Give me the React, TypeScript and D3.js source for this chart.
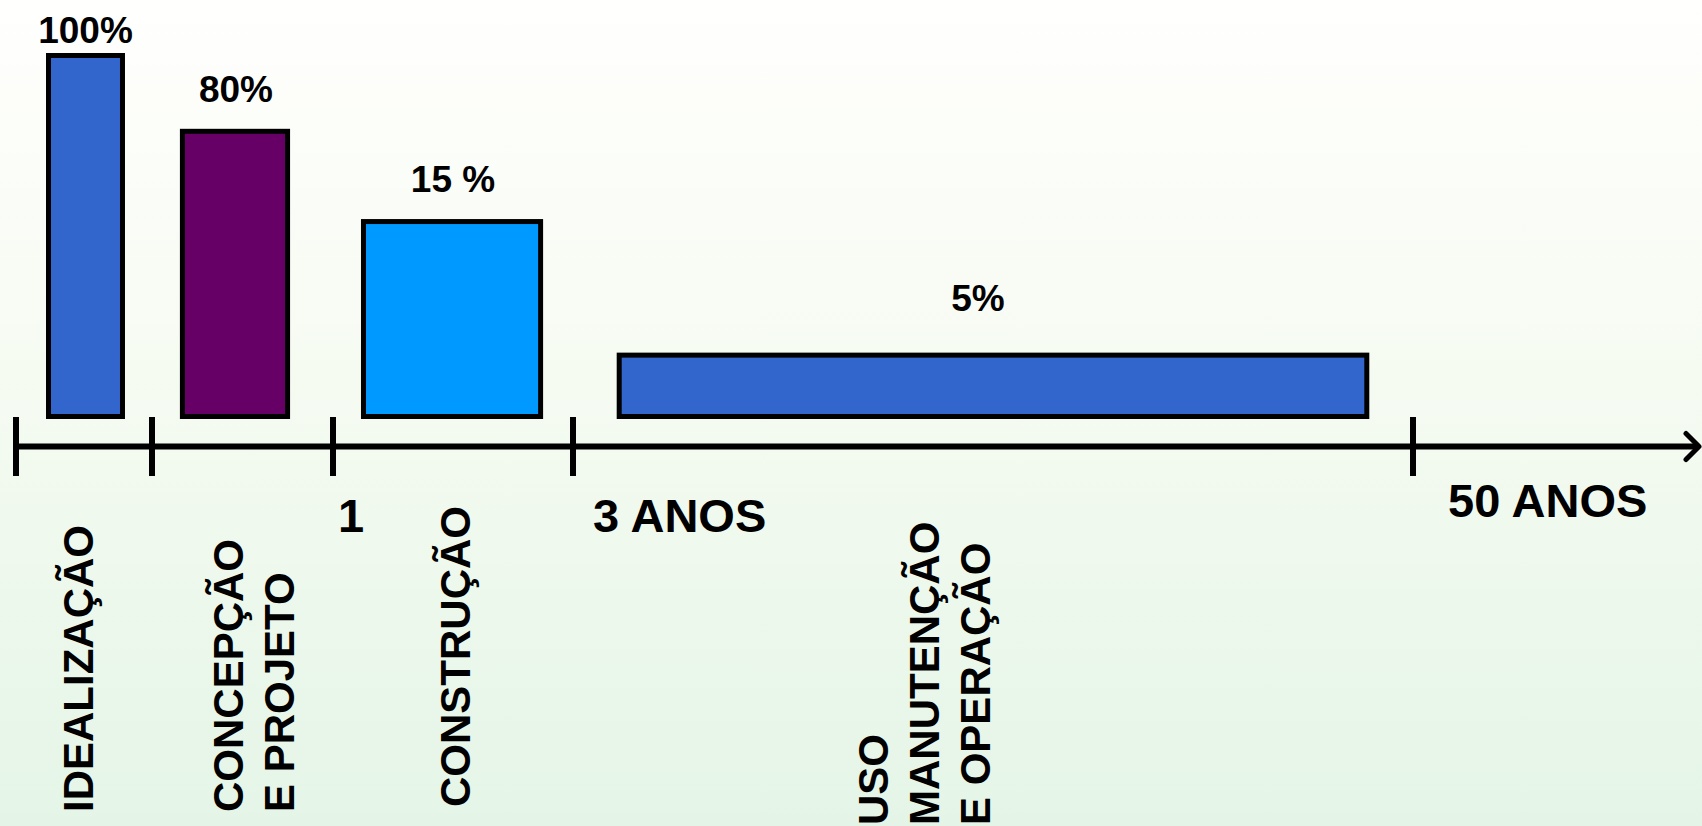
import React from "react";
import * as d3 from "d3";

// ---- data ----
const phaseNames: string[][] = [
  ["IDEALIZAÇÃO"],
  ["CONCEPÇÃO", "E PROJETO"],
  ["CONSTRUÇÃO"],
  ["USO", "MANUTENÇÃO", "E OPERAÇÃO"],
];
const influenceLabels = ["100%", "80%", "15 %", "5%"];
// drawn bar heights (relative, tallest = 100)
const barHeights = [100, 79, 54, 17];
// bar extents along the timeline (in phase-boundary units)
const barStart = [0.239, 1.168, 2.127, 3.055];
const barEnd = [0.783, 1.749, 2.865, 3.945];
const barColors = ["#3366CC", "#660066", "#0099FF", "#3366CC"];
// timeline boundaries
const boundaries = [0, 1, 2, 3, 4];
const boundaryLabels = ["", "", "1", "3 ANOS", "50 ANOS"];

// ---- layout ----
const W = 1702;
const H = 826;
const FONT = "'Liberation Sans', Arial, Helvetica, sans-serif";
const axisY = 446.5;
const labelLift = [10, 27, 27, 42];
const labelDx = [0, 1, 1, -15];
const boundaryLabelDx = [0, 0, 5, 20, 35];
const boundaryLabelY = [0, 0, 532, 532, 517];
const phaseLabelX = [93, 243, 470, 888];
const phaseLabelY = [812, 812, 807, 825];
const phaseLineGap = 51;

export default function App() {
  const x = d3.scaleLinear().domain(boundaries).range([16, 152, 333, 573, 1413]);
  const y = d3.scaleLinear().domain([0, 100]).range([416.5, 55.5]);
  const barStroke = 5;

  return (
    <div style={{ position: "absolute", left: 0, top: 0, width: W, height: H, overflow: "hidden" }}>
      <svg width={W} height={H} style={{ display: "block" }} fontFamily={FONT}>
        <defs>
          <linearGradient id="bg" x1="0" y1="0" x2="0" y2="1">
            <stop offset="0" stopColor="#FFFFFD" />
            <stop offset="0.45" stopColor="#F6FBF2" />
            <stop offset="1" stopColor="#E4F5E7" />
          </linearGradient>
        </defs>
        <rect x={0} y={0} width={W} height={H} fill="url(#bg)" />

        {/* bars */}
        {barHeights.map((v, i) => {
          const x0 = x(barStart[i]);
          const x1 = x(barEnd[i]);
          const top = y(v);
          return (
            <g key={i}>
              <rect
                x={x0}
                y={top}
                width={x1 - x0}
                height={y(0) - top}
                fill={barColors[i]}
                stroke="#000"
                strokeWidth={barStroke}
              />
              <text
                x={(x0 + x1) / 2 + labelDx[i]}
                y={top - barStroke / 2 - labelLift[i]}
                textAnchor="middle"
                fontSize={37}
                fontWeight="bold"
                fill="#000"
              >
                {influenceLabels[i]}
              </text>
            </g>
          );
        })}

        {/* timeline axis */}
        <line x1={x(0)} x2={1699} y1={axisY} y2={axisY} stroke="#000" strokeWidth={6} />
        <path
          d={`M${1686},${axisY - 13} L${1699},${axisY} L${1686},${axisY + 13}`}
          fill="none"
          stroke="#000"
          strokeWidth={5}
          strokeLinecap="round"
          strokeLinejoin="round"
        />
        {boundaries.map((b, i) => (
          <g key={i}>
            <line x1={x(b)} x2={x(b)} y1={417} y2={476} stroke="#000" strokeWidth={6} />
            {boundaryLabels[i] && (
              <text
                x={x(b) + boundaryLabelDx[i]}
                y={boundaryLabelY[i]}
                fontSize={47}
                fontWeight="bold"
                fill="#000"
              >
                {boundaryLabels[i]}
              </text>
            )}
          </g>
        ))}

        {/* phase names (vertical) */}
        {phaseNames.map((lines, i) =>
          lines.map((ln, j) => {
            const bx = phaseLabelX[i] + j * phaseLineGap;
            const by = phaseLabelY[i];
            return (
              <text
                key={`${i}-${j}`}
                transform={`translate(${bx},${by}) rotate(-90)`}
                fontSize={42}
                fontWeight="bold"
                fill="#000"
              >
                {ln}
              </text>
            );
          })
        )}
      </svg>
    </div>
  );
}
